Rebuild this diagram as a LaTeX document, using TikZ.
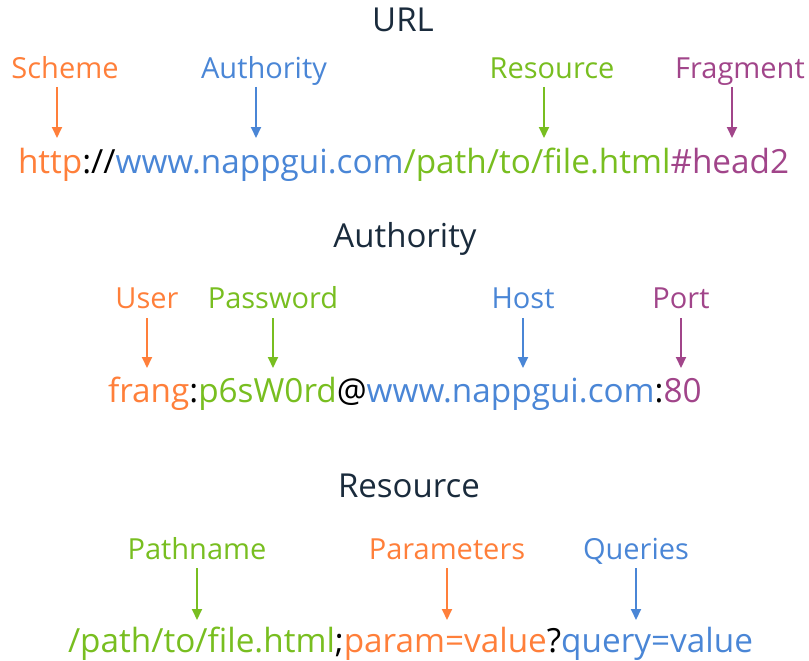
\documentclass[tikz,border=0pt]{standalone}
\usepackage{fontspec}
\setmainfont{Open Sans}
\usetikzlibrary{arrows.meta}
\definecolor{corange}{HTML}{FF7F3A}
\definecolor{cblue}{HTML}{4A86D6}
\definecolor{cgreen}{HTML}{78BE20}
\definecolor{cpurple}{HTML}{A1458A}
\definecolor{ctitle}{HTML}{1A2B3C}
\begin{document}
\begin{tikzpicture}[x=1pt,y=1pt,
  title/.style={font=\fontsize{33}{40}\selectfont, text=ctitle, anchor=base, inner sep=0pt},
  lab/.style={font=\fontsize{29}{35}\selectfont, anchor=base, inner sep=0pt},
  seg/.style={font=\fontsize{33.3}{40}\selectfont, anchor=base west, inner sep=0pt, outer sep=0pt},
  arr/.style={line width=2pt, -{Triangle[length=11pt,width=10pt]}}]
\useasboundingbox (0,0) rectangle (809,-661);

% ---------- URL ----------
\node[title] (tURL) at (403,-32) {URL};
\node[seg, text=corange] (u1) at (18,-173) {http};
\node[seg, text=black] (u2) at (u1.base east) {://};
\node[seg, text=cblue] (u3) at (u2.base east) {www.nappgui.com};
\node[seg, text=cgreen] (u4) at (u3.base east) {/path/to/file.html};
\node[seg, text=cpurple] (u5) at (u4.base east) {\#head2};

\node[lab, text=corange] (lScheme) at (65,-78) {Scheme};
\node[lab, text=cblue] (lAuth) at (264,-78) {Authority};
\node[lab, text=cgreen] (lRes) at (552,-78) {Resource};
\node[lab, text=cpurple] (lFrag) at (740,-78) {Fragment};

\coordinate (eScheme) at (lScheme.base |- u1.base);
\coordinate (eAuth) at (lAuth.base |- u3.base);
\coordinate (eRes) at (lRes.base |- u4.base);
\coordinate (eFrag) at (lFrag.base |- u5.base);
\draw[arr, corange] ([xshift=-8pt,yshift=-9pt]lScheme.base) -- ([xshift=-8pt,yshift=35pt]eScheme);
\draw[arr, cblue] ([xshift=-8pt,yshift=-9pt]lAuth.base) -- ([xshift=-8pt,yshift=35pt]eAuth);
\draw[arr, cgreen] ([xshift=-8pt,yshift=-9pt]lRes.base) -- ([xshift=-8pt,yshift=35pt]eRes);
\draw[arr, cpurple] ([xshift=-8pt,yshift=-9pt]lFrag.base) -- ([xshift=-8pt,yshift=35pt]eFrag);

% ---------- Authority ----------
\node[title] (tAuth) at (405,-247) {Authority};
\node[seg, text=corange] (a1) at (108,-402) {frang};
\node[seg, text=black] (a2) at (a1.base east) {:};
\node[seg, text=cgreen] (a3) at (a2.base east) {p6sW0rd};
\node[seg, text=black] (a4) at (a3.base east) {@};
\node[seg, text=cblue] (a5) at (a4.base east) {www.nappgui.com};
\node[seg, text=black] (a6) at (a5.base east) {:};
\node[seg, text=cpurple] (a7) at (a6.base east) {80};

\node[lab, text=corange] (lUser) at (147,-308) {User};
\node[lab, text=cgreen] (lPass) at (273,-308) {Password};
\node[lab, text=cblue] (lHost) at (523,-308) {Host};
\node[lab, text=cpurple] (lPort) at (681,-308) {Port};

\coordinate (eUser) at (lUser.base |- a1.base);
\coordinate (ePass) at (lPass.base |- a3.base);
\coordinate (eHost) at (lHost.base |- a5.base);
\coordinate (ePort) at (lPort.base |- a7.base);
\draw[arr, corange] ([yshift=-10pt]lUser.base) -- ([yshift=34pt]eUser);
\draw[arr, cgreen] ([yshift=-10pt]lPass.base) -- ([yshift=34pt]ePass);
\draw[arr, cblue] ([yshift=-10pt]lHost.base) -- ([yshift=34pt]eHost);
\draw[arr, cpurple] ([yshift=-10pt]lPort.base) -- ([yshift=34pt]ePort);

% ---------- Resource ----------
\node[title] (tRes) at (409,-497) {Resource};
\node[seg, text=cgreen] (r1) at (68,-652) {/path/to/file.html};
\node[seg, text=black] (r2) at (r1.base east) {;};
\node[seg, text=corange] (r3) at (r2.base east) {param=value};
\node[seg, text=black] (r4) at (r3.base east) {?};
\node[seg, text=cblue] (r5) at (r4.base east) {query=value};

\node[lab, text=cgreen] (lPath) at (197,-559) {Pathname};
\node[lab, text=corange] (lParam) at (447,-559) {Parameters};
\node[lab, text=cblue] (lQuery) at (636,-559) {Queries};

\coordinate (ePath) at (lPath.base |- r1.base);
\coordinate (eParam) at (lParam.base |- r3.base);
\coordinate (eQuery) at (lQuery.base |- r5.base);
\draw[arr, cgreen] ([yshift=-9pt]lPath.base) -- ([yshift=32pt]ePath);
\draw[arr, corange] ([yshift=-9pt]lParam.base) -- ([yshift=32pt]eParam);
\draw[arr, cblue] ([yshift=-9pt]lQuery.base) -- ([yshift=32pt]eQuery);
\end{tikzpicture}
\end{document}
